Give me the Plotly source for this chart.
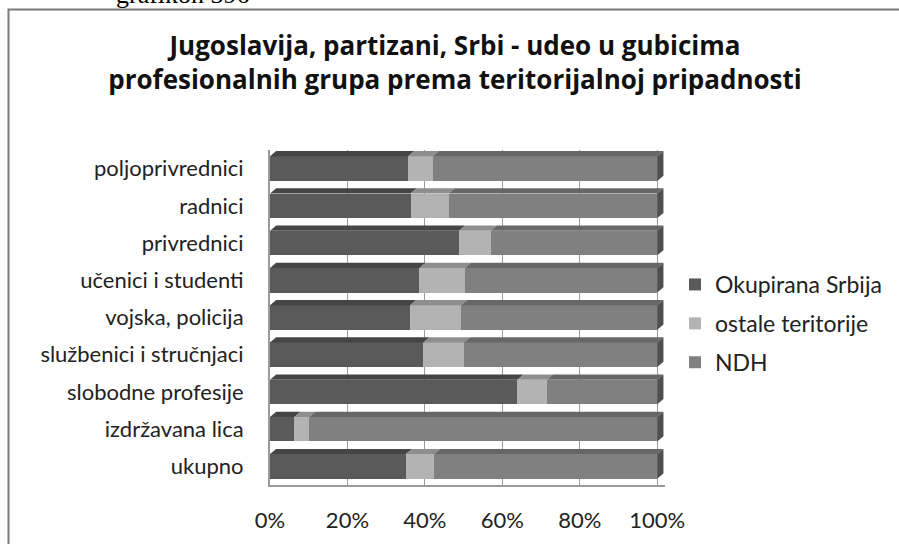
import plotly.graph_objects as go

categories = ["poljoprivrednici", "radnici", "privrednici", "učenici i studenti",
              "vojska, policija", "službenici i stručnjaci", "slobodne profesije",
              "izdržavana lica", "ukupno"]
okupirana_srbija = [35.7, 36.3, 48.8, 38.6, 36.2, 39.6, 63.9, 6.3, 35.1]
ostale_teritorije = [6.3, 9.8, 8.2, 11.7, 13.1, 10.5, 7.6, 3.8, 7.3]
ndh = [58.0, 53.9, 43.0, 49.7, 50.7, 49.9, 28.5, 89.9, 57.6]
series_names = ["Okupirana Srbija", "ostale teritorije", "NDH"]
tick_vals = [0, 20, 40, 60, 80, 100]
tick_text = ["0%", "20%", "40%", "60%", "80%", "100%"]
title_lines = ["Jugoslavija, partizani, Srbi - udeo u gubicima",
               "profesionalnih grupa prema teritorijalnoj pripadnosti"]

FW, FH = 899, 544
L, R, T, B = 270, 234, 150, 59
PW, PH = FW - L - R, FH - T - B

def xp(px):
    return (px - L) / PW

def yp(py):
    return 1 - (py - T) / PH

front = ["#5a5a5a", "#b3b3b3", "#808080"]
topc = ["#454545", "#8e8e8e", "#676767"]
bar_w = 0.66
dx, dy = 1.6, 0.14

series = [okupirana_srbija, ostale_teritorije, ndh]
fig = go.Figure()
for k, (name, vals) in enumerate(zip(series_names, series)):
    fig.add_trace(go.Bar(
        y=categories, x=vals, name=name, orientation="h",
        marker=dict(color=front[k], line=dict(width=0)),
        width=bar_w, legendgroup=name, hoverinfo="skip",
    ))

shapes = []
for i in range(len(categories)):
    start = 0.0
    top = i - bar_w / 2
    for k, vals in enumerate(series):
        x0, x1 = start, start + vals[i]
        shapes.append(dict(
            type="path", xref="x", yref="y", layer="above",
            path=f"M {x0},{top} L {x1},{top} L {x1+dx},{top-dy} L {x0+dx},{top-dy} Z",
            fillcolor=topc[k], line=dict(width=0)))
        start = x1
    bot = i + bar_w / 2
    shapes.append(dict(
        type="path", xref="x", yref="y", layer="above",
        path=f"M {start},{top} L {start+dx},{top-dy} L {start+dx},{bot-dy} L {start},{bot} Z",
        fillcolor="#4f4f4f", line=dict(width=0)))

# chart frame (open on right and bottom as in the cropped source)
shapes.append(dict(type="path", xref="paper", yref="paper", layer="above",
                   path=f"M {xp(8.5)},{yp(FH+5)} L {xp(8.5)},{yp(9.5)} L {xp(FW+5)},{yp(9.5)}",
                   line=dict(color="#7a7a7a", width=2)))

annotations = [
    dict(text="grafikon 396", x=xp(183), y=yp(11), xref="paper", yref="paper",
         xanchor="center", yanchor="bottom", showarrow=False,
         font=dict(family="Liberation Serif", size=26, color="#000")),
]

fig.update_layout(
    width=FW, height=FH,
    margin=dict(l=L, r=R, t=T, b=B, pad=0, autoexpand=False),
    paper_bgcolor="white", plot_bgcolor="white",
    barmode="stack", bargap=0.34,
    title=dict(text="<br>".join(title_lines), x=xp(455), xanchor="center",
               y=1 - 55 / FH, yanchor="middle", xref="paper",
               font=dict(family="Open Sans", size=26, color="#111", weight="bold")),
    font=dict(family="Lato", color="#222"),
    legend=dict(x=675 / FW, y=1 - 263 / FH, xref="container", yref="container",
                xanchor="left", yanchor="top",
                font=dict(size=23, color="#222"), tracegroupgap=6,
                bgcolor="rgba(0,0,0,0)", itemwidth=30),
    xaxis=dict(range=[0, 102], tickvals=tick_vals, ticktext=tick_text,
               showgrid=True, gridcolor="#9a9a9a", gridwidth=1,
               showline=True, linecolor="#9a9a9a", linewidth=2,
               zeroline=False, ticks="", tickfont=dict(size=22, color="#222"),
               ticklabelstandoff=15, fixedrange=True, automargin=False),
    yaxis=dict(categoryorder="array", categoryarray=categories,
               autorange="reversed", showgrid=False,
               showline=True, linecolor="#9a9a9a", linewidth=2,
               ticks="", tickfont=dict(size=22, color="#222"),
               ticklabelstandoff=20, fixedrange=True, automargin=False),
    shapes=shapes, annotations=annotations, showlegend=True,
)

fig.write_html("out.html", config={"displayModeBar": False},
               post_script="document.body.style.margin='0px';")
